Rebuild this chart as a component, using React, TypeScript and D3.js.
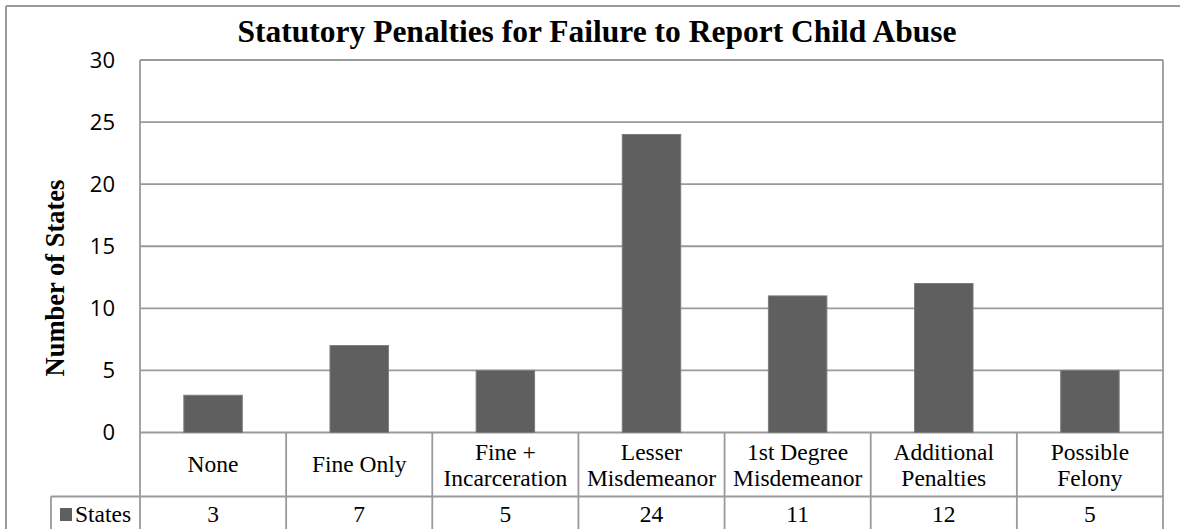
import * as d3 from "d3";

const categoryLines: string[][] = [
  ["None"],
  ["Fine Only"],
  ["Fine +", "Incarceration"],
  ["Lesser", "Misdemeanor"],
  ["1st Degree", "Misdemeanor"],
  ["Additional", "Penalties"],
  ["Possible", "Felony"],
];
const values = [3, 7, 5, 24, 11, 12, 5];
const yTicks = [0, 5, 10, 15, 20, 25, 30];
const seriesName = "States";
const title = "Statutory Penalties for Failure to Report Child Abuse";
const yTitle = "Number of States";

const W = 1185;
const H = 529;
const left = 140;
const right = 1163;
const top = 60;
const bottom = 432.5;
const catRowBottom = 496.5;
const legendLeft = 51;

const lineColor = "#9a9a9a";
const barColor = "#5f5f5f";
const serif = "'Liberation Serif', 'Times New Roman', serif";
const sans = "'Open Sans', 'Liberation Sans', sans-serif";

export default function App() {
  const idx = categoryLines.map((_, i) => String(i));
  const x = d3.scaleBand().domain(idx).range([left, right]).paddingInner(0.6).paddingOuter(0.3);
  const cell = d3.scaleBand().domain(idx).range([left, right]).padding(0);
  const y = d3.scaleLinear().domain([0, 30]).range([bottom, top]);

  return (
    <svg width={W} height={H} style={{ position: "absolute", left: 0, top: 0, background: "#fff" }}>
      {/* outer frame */}
      <line x1={6} y1={6} x2={1180} y2={6} stroke={lineColor} strokeWidth={2} />
      <line x1={6} y1={6} x2={6} y2={H} stroke={lineColor} strokeWidth={2} />

      <text x={597} y={42} textAnchor="middle" fontFamily={serif} fontWeight="bold" fontSize={31.5} fill="#000">
        {title}
      </text>

      {/* grid */}
      {yTicks.map((t) => (
        <g key={t}>
          <line x1={left} x2={right} y1={y(t)} y2={y(t)} stroke={lineColor} strokeWidth={1.8} />
          <text x={115} y={y(t)} dy="0.36em" textAnchor="end" fontFamily={sans} fontSize={22} fill="#000">
            {t}
          </text>
        </g>
      ))}

      <text
        transform={`translate(64,278) rotate(-90)`}
        textAnchor="middle"
        fontFamily={serif}
        fontWeight="bold"
        fontSize={26.5}
        fill="#000"
      >
        {yTitle}
      </text>

      {/* bars */}
      {values.map((v, i) => (
        <rect
          key={i}
          x={x(String(i))}
          y={y(v)}
          width={x.bandwidth()}
          height={bottom - y(v)}
          fill={barColor}
          stroke="#7c7c7c"
          strokeWidth={1}
        />
      ))}

      {/* data table */}
      <line x1={left} x2={left} y1={top} y2={H} stroke={lineColor} strokeWidth={1.8} />
      <line x1={right} x2={right} y1={top} y2={H} stroke={lineColor} strokeWidth={1.8} />
      <line x1={legendLeft} x2={right} y1={catRowBottom} y2={catRowBottom} stroke={lineColor} strokeWidth={1.8} />
      <line x1={legendLeft} x2={legendLeft} y1={catRowBottom} y2={H} stroke={lineColor} strokeWidth={1.8} />
      {idx.slice(1).map((k) => (
        <line key={k} x1={cell(k)} x2={cell(k)} y1={bottom} y2={H} stroke={lineColor} strokeWidth={1.8} />
      ))}

      {categoryLines.map((lines, i) => {
        const cx = (cell(String(i)) as number) + cell.bandwidth() / 2;
        return (
          <text key={i} textAnchor="middle" fontFamily={serif} fontSize={23.5} fill="#000">
            {lines.length === 1 ? (
              <tspan x={cx} y={471.5}>{lines[0]}</tspan>
            ) : (
              lines.map((l, j) => (
                <tspan key={j} x={cx} y={460 + j * 26}>
                  {l}
                </tspan>
              ))
            )}
          </text>
        );
      })}

      <rect x={60} y={508} width={12} height={13} fill={barColor} />
      <text x={75} y={521.5} fontFamily={serif} fontSize={23.5} fill="#000">
        {seriesName}
      </text>
      {values.map((v, i) => (
        <text
          key={i}
          x={(cell(String(i)) as number) + cell.bandwidth() / 2}
          y={521.5}
          textAnchor="middle"
          fontFamily={serif}
          fontSize={23.5}
          fill="#000"
        >
          {v}
        </text>
      ))}
    </svg>
  );
}
